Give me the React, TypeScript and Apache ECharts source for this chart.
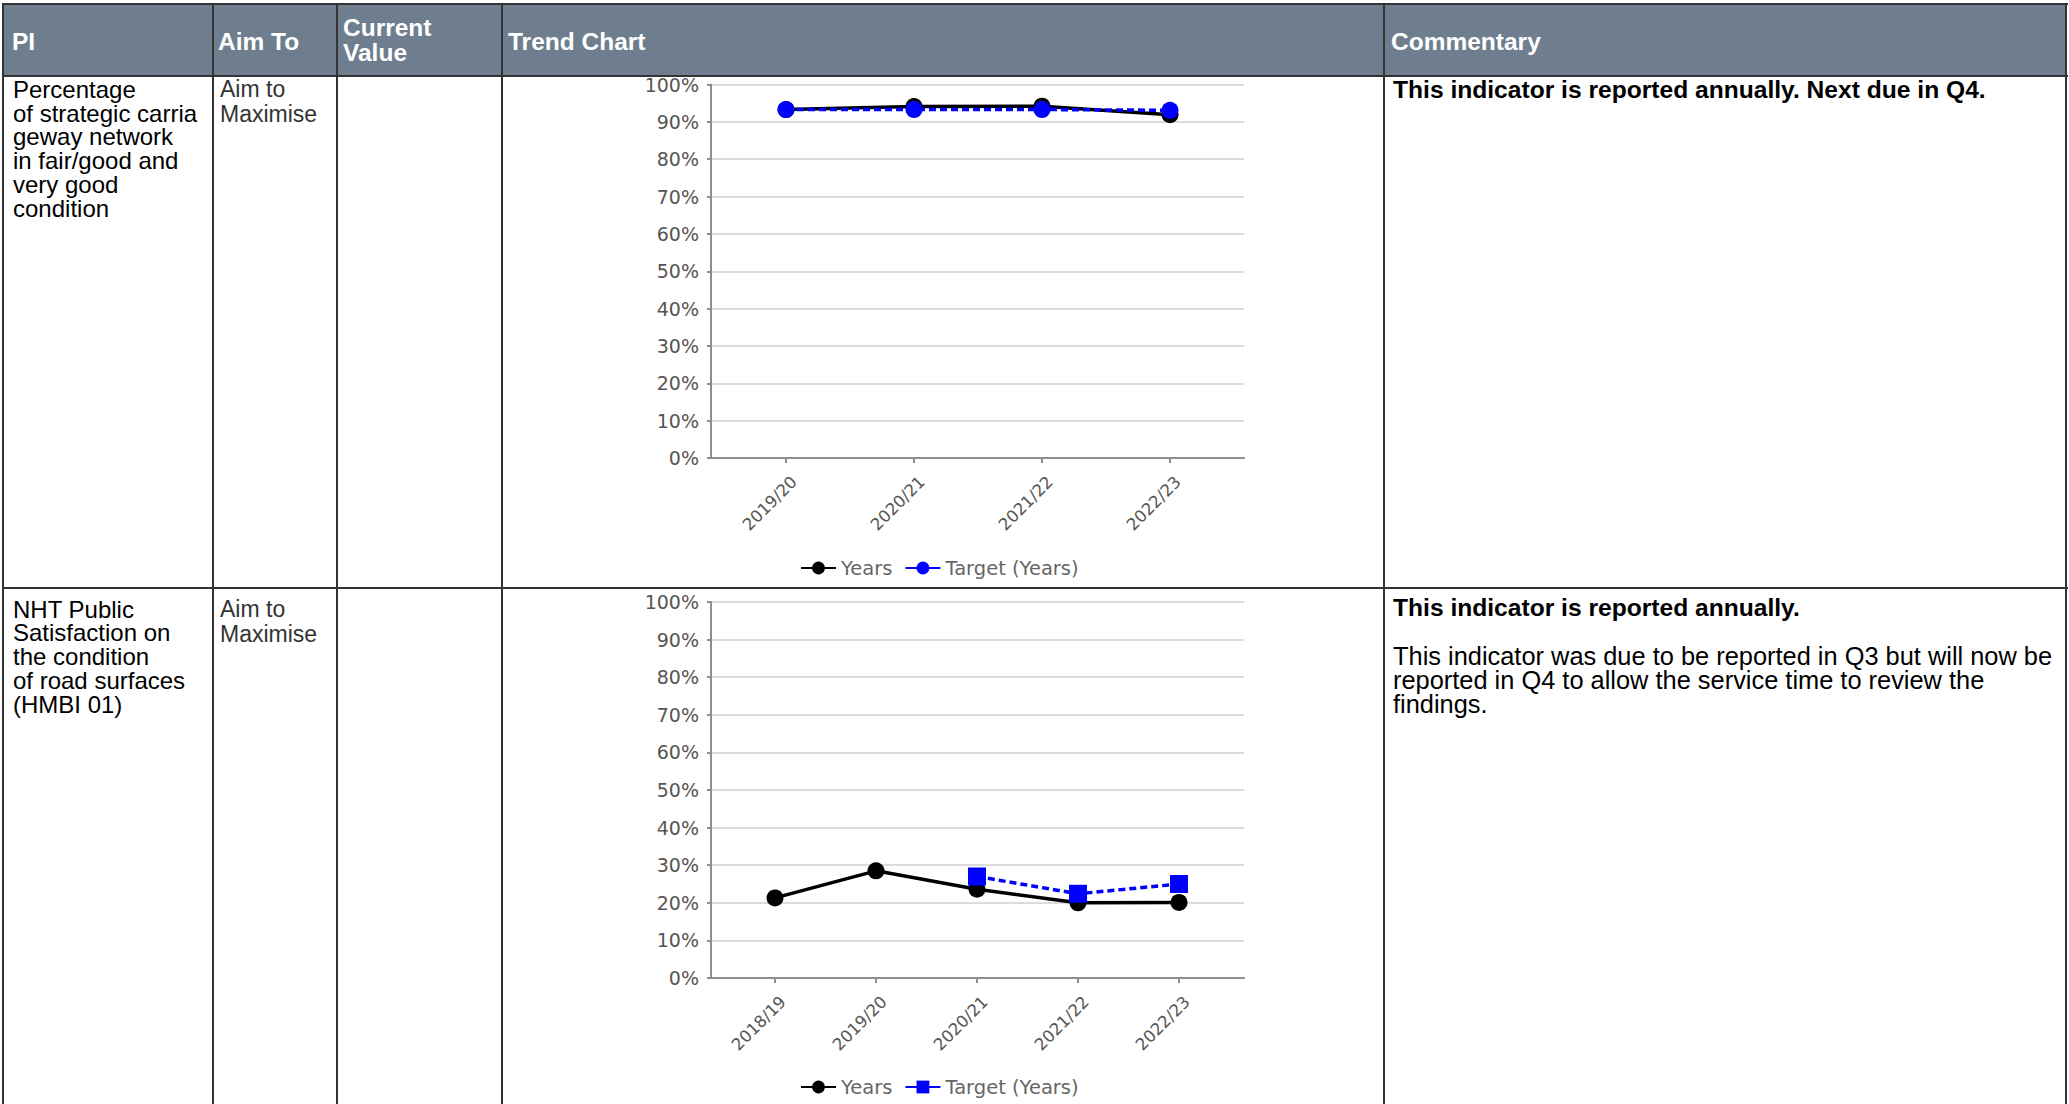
import React, { useEffect, useRef } from "react";
import * as echarts from "echarts";

// ---------- data ----------
const headerLabels = ["PI", "Aim To", "Current Value", "Trend Chart", "Commentary"];

const chart1Categories = ["2019/20", "2020/21", "2021/22", "2022/23"];
const chart1Years = [93.3, 94.1, 94.2, 91.9];
const chart1Target = [93.3, 93.3, 93.3, 93.1];

const chart2Categories = ["2018/19", "2019/20", "2020/21", "2021/22", "2022/23"];
const chart2Years = [21.3, 28.5, 23.6, 20.0, 20.1];
const chart2Target: (number | null)[] = [null, null, 27.0, 22.4, 25.0];

const seriesNames = ["Years", "Target (Years)"];

const row1PI = ["Percentage", "of strategic carria", "geway network", "in fair/good and", "very good", "condition"];
const row2PI = ["NHT Public", "Satisfaction on", "the condition", "of road surfaces", "(HMBI 01)"];
const aimLines = ["Aim to", "Maximise"];
const row1Comment = "This indicator is reported annually. Next due in Q4.";
const row2CommentBold = "This indicator is reported annually.";
const row2CommentLines = [
  "This indicator was due to be reported in Q3 but will now be",
  "reported in Q4 to allow the service time to review the",
  "findings.",
];

// ---------- layout ----------
const colX = [3, 213, 337, 502, 1384, 2066];
const rowY = [4, 76, 588];
const FONT = "'Liberation Sans', Arial, Helvetica, sans-serif";
const CHART_FONT = "'DejaVu Sans', Tahoma, sans-serif";

type ChartCfg = {
  categories: string[];
  years: (number | null)[];
  target: (number | null)[];
  targetSymbol: string;
  targetSize: number;
  gridTop: number;
  gridHeight: number;
  innerLeft: number;
  innerWidth: number;
  legendTop: number;
};

function buildOption(c: ChartCfg) {
  const axisColor = "#8e8e8e";
  return {
    animation: false,
    grid: [
      { left: 711, width: 533, top: c.gridTop, height: c.gridHeight },
      { left: c.innerLeft, width: c.innerWidth, top: c.gridTop, height: c.gridHeight },
    ],
    xAxis: [
      {
        type: "value",
        gridIndex: 0,
        min: 0,
        max: 1,
        axisLine: { show: true, onZero: false, lineStyle: { color: axisColor, width: 2 } },
        axisTick: { show: false },
        axisLabel: { show: false },
        splitLine: { show: false },
      },
      {
        type: "category",
        gridIndex: 1,
        data: c.categories,
        boundaryGap: true,
        axisLine: { show: false },
        axisTick: { show: true, alignWithLabel: true, length: 5, lineStyle: { color: axisColor, width: 2 } },
        axisLabel: {
          rotate: 45,
          margin: 13,
          verticalAlign: "top",
          lineHeight: 23,
          color: "#555",
          fontSize: 16.5,
          fontFamily: CHART_FONT,
          interval: 0,
        },
      },
    ],
    yAxis: [
      {
        type: "value",
        gridIndex: 0,
        min: 0,
        max: 100,
        interval: 10,
        axisLine: { show: true, lineStyle: { color: axisColor, width: 2 } },
        axisTick: { show: true, length: 4, lineStyle: { color: axisColor, width: 2 } },
        axisLabel: { formatter: "{value}%", color: "#555", fontSize: 19, fontFamily: CHART_FONT, margin: 12 },
        splitLine: { show: true, lineStyle: { color: "#dcdcdc", width: 2 } },
      },
      { type: "value", gridIndex: 1, min: 0, max: 100, show: false },
    ],
    legend: {
      left: 795,
      top: c.legendTop,
      itemWidth: 35,
      itemHeight: 16,
      itemGap: 12,
      data: seriesNames,
      lineStyle: { type: "solid" },
      textStyle: { color: "#666", fontSize: 19.5, fontFamily: CHART_FONT },
    },
    series: [
      {
        name: seriesNames[0],
        type: "line",
        xAxisIndex: 1,
        yAxisIndex: 1,
        data: c.years,
        symbol: "circle",
        symbolSize: 17,
        lineStyle: { color: "#000", width: 3.5 },
        itemStyle: { color: "#000" },
        z: 2,
      },
      {
        name: seriesNames[1],
        type: "line",
        xAxisIndex: 1,
        yAxisIndex: 1,
        data: c.target,
        symbol: c.targetSymbol,
        symbolSize: c.targetSize,
        lineStyle: { color: "#0000ff", width: 3.5, type: [7, 4] },
        itemStyle: { color: "#0000ff" },
        z: 3,
      },
    ],
  };
}

function ChartLayer({ cfg }: { cfg: ChartCfg }) {
  const ref = useRef<HTMLDivElement>(null);
  useEffect(() => {
    if (!ref.current) return;
    const chart = echarts.init(ref.current, undefined, { renderer: "svg" });
    chart.setOption(buildOption(cfg));
    return () => chart.dispose();
  }, []);
  return (
    <div
      ref={ref}
      style={{ position: "absolute", left: 0, top: 0, width: 2069, height: 1104, pointerEvents: "none" }}
    />
  );
}

function TextBlock({
  lines,
  left,
  top,
  size = 24,
  lh = 24,
  bold = false,
  color = "#000",
}: {
  lines: string[];
  left: number;
  top: number;
  size?: number;
  lh?: number;
  bold?: boolean;
  color?: string;
}) {
  return (
    <div
      style={{
        position: "absolute",
        left,
        top,
        fontFamily: FONT,
        fontSize: size,
        lineHeight: lh + "px",
        fontWeight: bold ? 700 : 400,
        color,
        whiteSpace: "nowrap",
      }}
    >
      {lines.map((l, i) => (
        <div key={i}>{l}</div>
      ))}
    </div>
  );
}

export default function App() {
  const cfg1: ChartCfg = {
    categories: chart1Categories,
    years: chart1Years,
    target: chart1Target,
    targetSymbol: "circle",
    targetSize: 17,
    gridTop: 84.5,
    gridHeight: 373.5,
    innerLeft: 722,
    innerWidth: 512,
    legendTop: 553,
  };
  const cfg2: ChartCfg = {
    categories: chart2Categories,
    years: chart2Years,
    target: chart2Target,
    targetSymbol: "rect",
    targetSize: 18,
    gridTop: 602,
    gridHeight: 376,
    innerLeft: 724.5,
    innerWidth: 505,
    legendTop: 1072,
  };

  const headerTops = [29, 29, 15, 29, 29];
  const headerLeft = [12, 218, 343, 508, 1391];

  return (
    <div
      style={{
        position: "fixed",
        left: 0,
        top: 0,
        width: 2069,
        height: 1104,
        overflow: "hidden",
        background: "#fff",
      }}
    >
      {/* header background */}
      <div style={{ position: "absolute", left: 3, top: 4, width: 2064, height: 72, background: "#6e7e8e" }} />
      {/* horizontal borders */}
      {rowY.map((y, i) => (
        <div key={"h" + i} style={{ position: "absolute", left: 2, top: y - 1, width: 2066, height: 2, background: "#333" }} />
      ))}
      {/* vertical borders */}
      {colX.map((x, i) => (
        <div key={"v" + i} style={{ position: "absolute", left: x - 1, top: 3, width: 2, height: 1101, background: "#333" }} />
      ))}

      {/* header texts */}
      {headerLabels.map((h, i) => (
        <TextBlock
          key={"ht" + i}
          lines={h === "Current Value" ? ["Current", "Value"] : [h]}
          left={headerLeft[i]}
          top={headerTops[i]}
          size={24.5}
          lh={25}
          bold
          color="#fff"
        />
      ))}

      {/* row 1 */}
      <TextBlock lines={row1PI} left={13} top={78} lh={23.7} />
      <TextBlock lines={aimLines} left={220} top={77} size={23} lh={24.5} color="#333" />
      <TextBlock lines={[row1Comment]} left={1393} top={78} size={24.6} bold />

      {/* row 2 */}
      <TextBlock lines={row2PI} left={13} top={597.5} lh={23.8} />
      <TextBlock lines={aimLines} left={220} top={597} size={23} lh={24.5} color="#333" />
      <TextBlock lines={[row2CommentBold]} left={1393} top={596} size={24.6} bold />
      <TextBlock lines={row2CommentLines} left={1393} top={644} size={25.4} lh={24} />

      <ChartLayer cfg={cfg1} />
      <ChartLayer cfg={cfg2} />
    </div>
  );
}
